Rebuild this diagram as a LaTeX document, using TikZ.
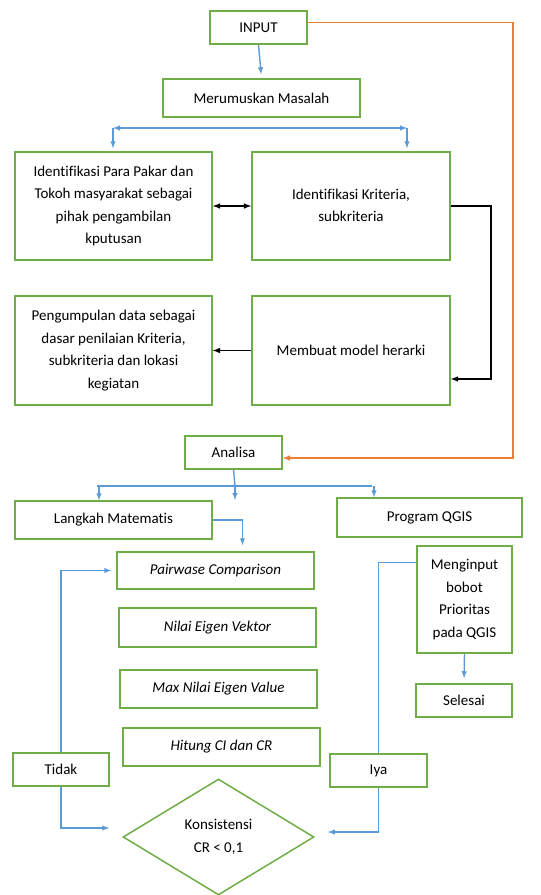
\documentclass[tikz,border=0pt]{standalone}
\usepackage{fontspec}
\setmainfont{Carlito}[Ligatures={NoCommon,NoRequired}]
\usetikzlibrary{shapes.geometric,positioning}
\definecolor{boxgreen}{HTML}{70AD47}
\definecolor{flowblue}{HTML}{5B9BD5}
\definecolor{floworange}{HTML}{ED7D31}

\begin{document}
\begin{tikzpicture}[
  x=1pt, y=-1pt,
  every node/.style={font=\fontsize{15}{22.5}\selectfont},
  mybox/.style={draw=boxgreen,line width=1.5pt,align=center,inner sep=0pt},
  blueline/.style={draw=flowblue,line width=1.4pt},
  bluearrow/.style={blueline,-latex},
  blackarrow/.style={draw=black,line width=1.5pt,-latex}
]
\useasboundingbox (0,0) rectangle (541,895);

\node[mybox,minimum width=97pt,minimum height=33pt] (input) at (258.5,27.5) {INPUT};
\node[mybox,minimum width=197pt,minimum height=38pt] (merum) at (261.5,98) {Merumuskan Masalah};
\node[mybox,minimum width=197pt,minimum height=108pt] (pakar) at (113.5,206) {Identifikasi Para Pakar dan\\Tokoh masyarakat sebagai\\pihak pengambilan\\kputusan};
\node[mybox,minimum width=198pt,minimum height=108pt] (krit) at (351,206) {\raisebox{6pt}{\begin{tabular}{@{}c@{}}Identifikasi Kriteria,\\subkriteria\end{tabular}}};
\node[mybox,minimum width=197pt,minimum height=109pt] (pengum) at (113.5,350.5) {Pengumpulan data sebagai\\dasar penilaian Kriteria,\\subkriteria dan lokasi\\kegiatan};
\node[mybox,minimum width=198pt,minimum height=109pt] (model) at (351,350.5) {Membuat model herarki};

\node[mybox,minimum width=97pt,minimum height=33pt] (analisa) at (233.5,452.5) {Analisa};
\node[mybox,minimum width=197pt,minimum height=38pt] (langkah) at (113.5,520) {Langkah Matematis};
\node[mybox,minimum width=185pt,minimum height=39pt] (qgis) at (429.5,517.5) {Program QGIS};

\node[mybox,minimum width=197pt,minimum height=37pt] (pair) at (215.5,570.5) {\itshape Pairwase Comparison};
\node[mybox,minimum width=197pt,minimum height=39pt] (vektor) at (217.5,627.5) {\itshape Nilai Eigen Vektor};
\node[mybox,minimum width=197pt,minimum height=38pt] (maxval) at (218.5,689) {\itshape Max Nilai Eigen Value};
\node[mybox,minimum width=197pt,minimum height=38pt] (hitung) at (221.5,747) {\itshape Hitung CI dan CR};

\node[mybox,minimum width=96pt,minimum height=33pt] (tidak) at (61,769.5) {Tidak};
\node[mybox,minimum width=97pt,minimum height=33pt] (iya) at (378.5,770.5) {Iya};
\node[mybox,diamond,minimum width=191pt,minimum height=116pt] (konsist) at (218.5,837) {Konsistensi\\CR < 0,1};

\node[mybox,minimum width=95pt,minimum height=107pt] (mengin) at (464.5,599.5) {Menginput\\bobot\\Prioritas\\pada QGIS};
\node[mybox,minimum width=96pt,minimum height=33pt] (selesai) at (464,700.5) {Selesai};

% top part
\draw[bluearrow,shorten >=4pt] (input.south) -- (merum.north);
\coordinate (sl) at (113,128);
\coordinate (sr) at (407,128);
\draw[blueline,latex-latex] (sl) -- (sr);
\draw[bluearrow,shorten >=3pt] (sl) -- (sl |- pakar.north);
\draw[bluearrow,shorten >=3pt] (sr) -- (sr |- krit.north);
\draw[blackarrow,latex-latex] (pakar.east) -- (krit.east -| krit.west);
\coordinate (kb) at (491,379);
\draw[blackarrow] (krit.east) -| (kb) -- (kb -| model.east);
\draw[blackarrow] (model.west) -- (pengum.east);

% feedback from input
\coordinate (oc) at (513,458);
\draw[draw=floworange,line width=1.4pt,-latex] ([yshift=5pt]input.east) -| (oc) -- (oc -| analisa.east);

% analisa split
\coordinate (ac) at (235,486);
\coordinate (al) at (99,486);
\coordinate (ar) at (374,486);
\draw[blueline] (analisa.south) -- (ac);
\draw[blueline] ([xshift=-2pt]al) -- ([xshift=-2pt]ar);
\draw[bluearrow] (al) -- (al |- langkah.north);
\draw[bluearrow] (ac) -- ++(0,14);
\draw[bluearrow] (ar) -- (ar |- qgis.north);
\draw[bluearrow,shorten >=6pt] (langkah.east) -| ([xshift=27pt]pair.north);

% consistency loop
\draw[bluearrow,shorten >=5pt] (tidak.north) |- (pair.west);
\draw[bluearrow,shorten >=13pt] (tidak.south) |- ([yshift=9pt]konsist.west);
\draw[blueline] (iya.north) |- ([yshift=-17pt]mengin.north west);
\draw[bluearrow,shorten >=13pt] (iya.south) |- ([yshift=5pt]konsist.east);
\draw[bluearrow,shorten >=5pt] (mengin.south) -- (selesai.north);

\end{tikzpicture}
\end{document}
